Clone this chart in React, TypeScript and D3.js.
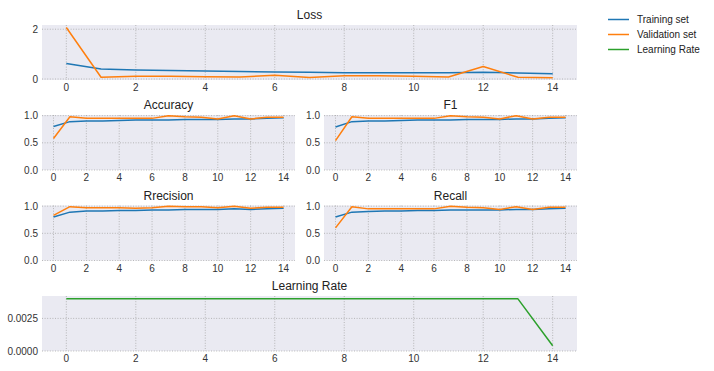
import * as d3 from "d3";

const epochs = d3.range(0, 15);
const xTicks = [0, 2, 4, 6, 8, 10, 12, 14];

const lossTrain = [0.62, 0.4, 0.36, 0.34, 0.32, 0.3, 0.28, 0.27, 0.25, 0.25, 0.25, 0.25, 0.27, 0.24, 0.21];
const lossVal = [2.07, 0.07, 0.11, 0.11, 0.09, 0.08, 0.15, 0.06, 0.13, 0.13, 0.11, 0.08, 0.5, 0.07, 0.05];

const accTrain = [0.8, 0.89, 0.9, 0.9, 0.91, 0.92, 0.92, 0.92, 0.93, 0.93, 0.93, 0.94, 0.94, 0.95, 0.96];
const accVal = [0.58, 0.98, 0.95, 0.95, 0.95, 0.95, 0.95, 1.0, 0.98, 0.97, 0.94, 1.0, 0.94, 0.97, 0.97];

const f1Train = [0.79, 0.89, 0.9, 0.9, 0.91, 0.92, 0.92, 0.92, 0.93, 0.93, 0.93, 0.94, 0.94, 0.95, 0.96];
const f1Val = [0.54, 0.98, 0.95, 0.95, 0.95, 0.95, 0.95, 1.0, 0.98, 0.97, 0.94, 1.0, 0.94, 0.97, 0.97];

const precTrain = [0.8, 0.89, 0.91, 0.91, 0.92, 0.92, 0.93, 0.93, 0.94, 0.94, 0.94, 0.95, 0.94, 0.95, 0.96];
const precVal = [0.83, 0.99, 0.97, 0.97, 0.97, 0.96, 0.97, 1.0, 0.99, 0.99, 0.97, 1.0, 0.96, 0.98, 0.98];

const recTrain = [0.8, 0.89, 0.9, 0.91, 0.91, 0.92, 0.92, 0.93, 0.93, 0.93, 0.93, 0.94, 0.94, 0.95, 0.96];
const recVal = [0.6, 0.99, 0.95, 0.95, 0.95, 0.95, 0.95, 1.0, 0.98, 0.97, 0.94, 0.99, 0.94, 0.98, 0.98];

const learningRate = [0.004, 0.004, 0.004, 0.004, 0.004, 0.004, 0.004, 0.004, 0.004, 0.004, 0.004, 0.004, 0.004, 0.004, 0.0004];

const legendLabels = ["Training set", "Validation set", "Learning Rate"];
const COLORS = ["#1f77b4", "#ff7f0e", "#2ca02c"];
const FONT = "Liberation Sans, Arial, sans-serif";
const TEXT = "#333";

type Series = { values: number[]; color: string };

type PanelProps = {
  title: string;
  left: number;
  right: number;
  top: number;
  bottom: number;
  yDomain: [number, number];
  yTicks: number[];
  yFormat: (v: number) => string;
  series: Series[];
};

const Panel = ({ title, left, right, top, bottom, yDomain, yTicks, yFormat, series }: PanelProps) => {
  const x = d3.scaleLinear().domain([-0.7, 14.7]).range([left, right]);
  const y = d3.scaleLinear().domain(yDomain).range([bottom, top]);
  const line = d3
    .line<number>()
    .x((_, i) => x(epochs[i]))
    .y((d) => y(d));

  return (
    <g>
      <rect x={left} y={top} width={right - left} height={bottom - top} fill="#eaeaf2" />
      {xTicks.map((t) => (
        <line key={"gx" + t} x1={x(t)} x2={x(t)} y1={top} y2={bottom} stroke="#a8a8a8" strokeWidth={0.8} strokeDasharray="1,1.6" />
      ))}
      {yTicks.map((t) => (
        <line key={"gy" + t} x1={left} x2={right} y1={y(t)} y2={y(t)} stroke="#a8a8a8" strokeWidth={0.8} strokeDasharray="1,1.6" />
      ))}
      <g clipPath={undefined}>
        {series.map((s, i) => (
          <path key={i} d={line(s.values) || ""} fill="none" stroke={s.color} strokeWidth={1.5} strokeLinejoin="round" />
        ))}
      </g>
      {xTicks.map((t) => (
        <text key={"tx" + t} x={x(t)} y={bottom + 11} textAnchor="middle" fontSize={10} fill={TEXT} fontFamily={FONT}>
          {t}
        </text>
      ))}
      {yTicks.map((t) => (
        <text key={"ty" + t} x={left - 4} y={y(t) + 3.5} textAnchor="end" fontSize={10} fill={TEXT} fontFamily={FONT}>
          {yFormat(t)}
        </text>
      ))}
      <text x={(left + right) / 2} y={top - 6} textAnchor="middle" fontSize={12} fill="#222" fontFamily={FONT}>
        {title}
      </text>
    </g>
  );
};

export default function App() {
  const fmt1 = d3.format(".1f");
  const fmt0 = d3.format("d");
  const fmt4 = d3.format(".4f");
  const metricTicks = [0, 0.5, 1.0];
  const metricDomain: [number, number] = [0, 1.012];

  return (
    <svg width={714} height={371} style={{ position: "absolute", left: 0, top: 0, background: "#fff" }}>
      <Panel
        title="Loss"
        left={42}
        right={577}
        top={25}
        bottom={80}
        yDomain={[-0.04, 2.17]}
        yTicks={[0, 2]}
        yFormat={fmt0}
        series={[
          { values: lossTrain, color: COLORS[0] },
          { values: lossVal, color: COLORS[1] },
        ]}
      />
      <Panel
        title="Accuracy"
        left={42}
        right={295}
        top={115}
        bottom={170}
        yDomain={metricDomain}
        yTicks={metricTicks}
        yFormat={fmt1}
        series={[
          { values: accTrain, color: COLORS[0] },
          { values: accVal, color: COLORS[1] },
        ]}
      />
      <Panel
        title="F1"
        left={324}
        right={577}
        top={115}
        bottom={170}
        yDomain={metricDomain}
        yTicks={metricTicks}
        yFormat={fmt1}
        series={[
          { values: f1Train, color: COLORS[0] },
          { values: f1Val, color: COLORS[1] },
        ]}
      />
      <Panel
        title="Rrecision"
        left={42}
        right={295}
        top={205.5}
        bottom={260.5}
        yDomain={metricDomain}
        yTicks={metricTicks}
        yFormat={fmt1}
        series={[
          { values: precTrain, color: COLORS[0] },
          { values: precVal, color: COLORS[1] },
        ]}
      />
      <Panel
        title="Recall"
        left={324}
        right={577}
        top={205.5}
        bottom={260.5}
        yDomain={metricDomain}
        yTicks={metricTicks}
        yFormat={fmt1}
        series={[
          { values: recTrain, color: COLORS[0] },
          { values: recVal, color: COLORS[1] },
        ]}
      />
      <Panel
        title="Learning Rate"
        left={42}
        right={577}
        top={296}
        bottom={351}
        yDomain={[0, 0.00422]}
        yTicks={[0, 0.0025]}
        yFormat={fmt4}
        series={[{ values: learningRate, color: COLORS[2] }]}
      />
      {legendLabels.map((label, i) => (
        <g key={label} transform={`translate(608, ${19.5 + i * 15})`}>
          <line x1={0} x2={21} y1={0} y2={0} stroke={COLORS[i]} strokeWidth={1.5} />
          <text x={29} y={3.5} fontSize={10} fill="#222" fontFamily={FONT}>
            {label}
          </text>
        </g>
      ))}
    </svg>
  );
}
